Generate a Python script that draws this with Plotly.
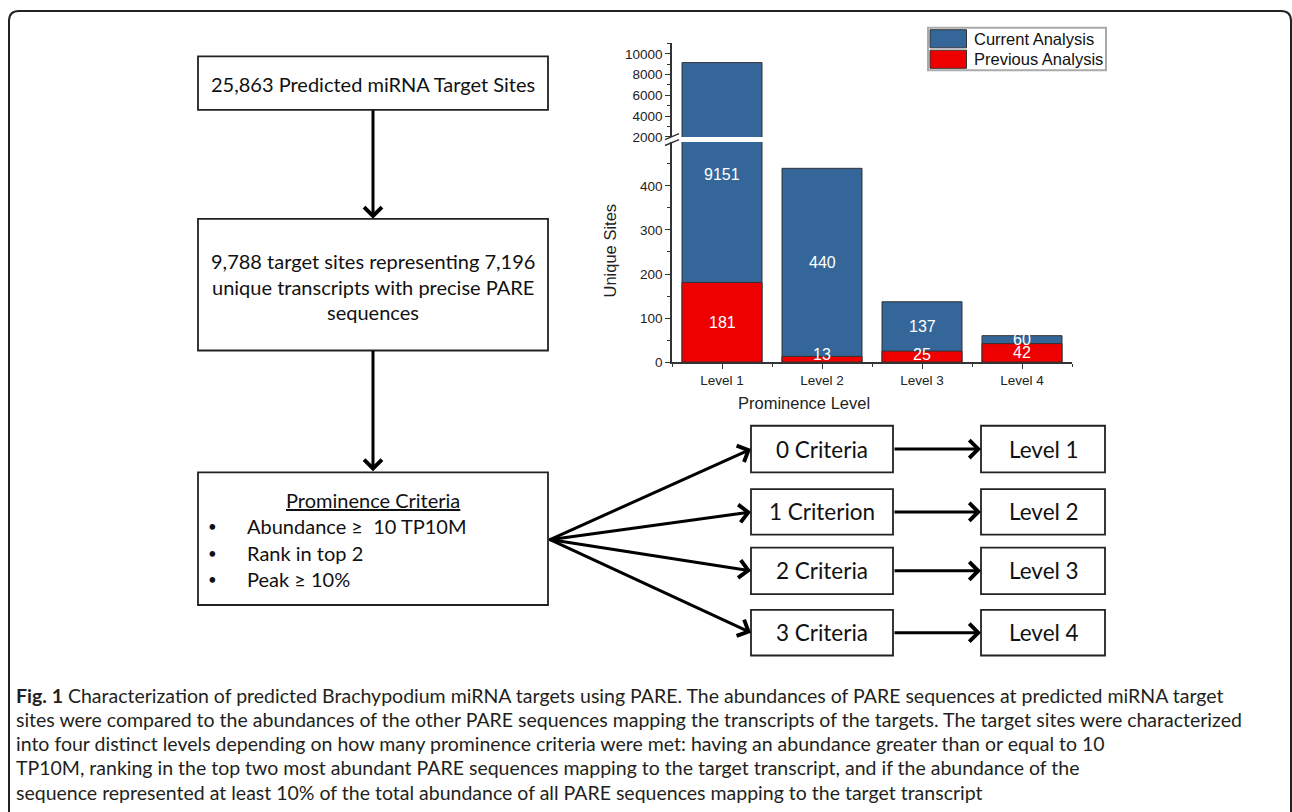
import plotly.graph_objects as go

W, H = 1292, 812

# ---------------- data ----------------
categories = ["Level 1", "Level 2", "Level 3", "Level 4"]
series_names = ["Current Analysis", "Previous Analysis"]
current_analysis = [9151, 440, 137, 60]
previous_analysis = [181, 13, 25, 42]
lower_tickvals = [0, 100, 200, 300, 400]
lower_minor = [50, 150, 250, 350, 450]
upper_tickvals = [2000, 4000, 6000, 8000, 10000]
upper_minor = [3000, 5000, 7000, 9000, 11000]
lower_range = [0, 500]
upper_range = [2000, 11000]

box1_lines = ["25,863 Predicted miRNA Target Sites"]
box2_lines = ["9,788 target sites representing 7,196",
              "unique transcripts with precise PARE",
              "sequences"]
criteria_title = "Prominence Criteria"
criteria_items = ["Abundance ≥  10 TP10M", "Rank in top 2", "Peak ≥ 10%"]
criteria_counts = ["0 Criteria", "1 Criterion", "2 Criteria", "3 Criteria"]

caption_lines = [
    "<b>Fig. 1</b> Characterization of predicted Brachypodium miRNA targets using PARE. The abundances of PARE sequences at predicted miRNA target",
    "sites were compared to the abundances of the other PARE sequences mapping the transcripts of the targets. The target sites were characterized",
    "into four distinct levels depending on how many prominence criteria were met: having an abundance greater than or equal to 10",
    "TP10M, ranking in the top two most abundant PARE sequences mapping to the target transcript, and if the abundance of the",
    "sequence represented at least 10% of the total abundance of all PARE sequences mapping to the target transcript",
]

# ---------------- styles ----------------
BLUE = "#346699"
RED = "#EE0000"
AX = "#333333"
BAR_FONT = "Liberation Sans, Arial, sans-serif"
FLOW_FONT = "Lato, Carlito, Calibri, sans-serif"
CAP_FONT = "Lato, Open Sans, sans-serif"


def X(px):
    return px / W


def Y(py):
    return 1 - py / H


xpos = list(range(len(categories)))
series_vals = [current_analysis, previous_analysis]
series_cols = [BLUE, RED]

fig = go.Figure()
# upper panel (broken part of the axis) and lower panel, previous drawn over current
for yax in ("y2", "y"):
    for name, vals, col in zip(series_names, series_vals, series_cols):
        fig.add_trace(go.Bar(x=xpos, y=vals, name=name, xaxis="x", yaxis=yax, width=0.8,
                             marker=dict(color=col, line=dict(color=AX, width=1)),
                             showlegend=False,
                             hovertemplate="%{y}<extra>" + name + "</extra>"))

annotations = []
# bar value labels
for i in xpos:
    c, p = current_analysis[i], previous_analysis[i]
    yc = min((c + p) / 2, 0.85 * lower_range[1])
    yp = max(p / 2, 17)
    annotations.append(dict(x=i, y=yc, xref="x", yref="y", text=str(c), showarrow=False,
                            font=dict(family=BAR_FONT, size=16, color="white")))
    annotations.append(dict(x=i, y=yp, xref="x", yref="y", text=str(p), showarrow=False,
                            font=dict(family=BAR_FONT, size=16, color="white")))

# axis titles
annotations.append(dict(x=X(610), y=Y(203.5), xref="paper", yref="paper", text="Unique Sites",
                        textangle=-90, showarrow=False,
                        font=dict(family=BAR_FONT, size=16.5, color="#222")))
annotations.append(dict(x=X(872), y=Y(407), xref="paper", yref="paper", text="Prominence Level",
                        showarrow=False, font=dict(family=BAR_FONT, size=16.5, color="#222")))

shapes = []
# legend (drawn in Origin style: large swatches)
shapes.append(dict(type="rect", xref="paper", yref="paper", x0=X(928), y0=Y(71), x1=X(1106), y1=Y(28),
                   line=dict(color="#aaaaaa", width=2), fillcolor="white"))
leg_rows = [(30, 48.3), (50.7, 69)]
for (a, b), name, col in zip(leg_rows, series_names, series_cols):
    shapes.append(dict(type="rect", xref="paper", yref="paper", x0=X(930), y0=Y(b), x1=X(966.5), y1=Y(a),
                       line=dict(color=AX, width=1), fillcolor=col))
    annotations.append(dict(x=X(971.5), y=Y((a + b) / 2), xref="paper", yref="paper", text=name,
                            showarrow=False, xanchor="left", yanchor="middle",
                            font=dict(family=BAR_FONT, size=16.5, color="#111")))

# outer rounded frame
r = 10
L, T, R, B = 9, 11, 1291, 840
frame = (f"M {X(L)},{Y(B)} L {X(L)},{Y(T + r)} Q {X(L)},{Y(T)} {X(L + r)},{Y(T)} "
         f"L {X(R - r)},{Y(T)} Q {X(R)},{Y(T)} {X(R)},{Y(T + r)} L {X(R)},{Y(B)}")
shapes.append(dict(type="path", path=frame, xref="paper", yref="paper",
                   line=dict(color="#222", width=2)))

# axis break marks
for dy in (0, 6):
    shapes.append(dict(type="line", xref="paper", yref="paper",
                       x0=X(665), y0=Y(141 + dy), x1=X(679), y1=Y(135 + dy),
                       line=dict(color=AX, width=1.5)))


def box(x0, y0, x1, y1):
    shapes.append(dict(type="rect", xref="paper", yref="paper",
                       x0=X(x0), y0=Y(y1), x1=X(x1), y1=Y(y0),
                       line=dict(color="#222", width=1.8), fillcolor="rgba(0,0,0,0)"))


def text(x, y, s, size=20, anchor="center", **kw):
    annotations.append(dict(x=X(x), y=Y(y), xref="paper", yref="paper", text=s,
                            showarrow=False, xanchor=anchor, yanchor="middle",
                            font=dict(family=FLOW_FONT, size=size, color="#111", **kw)))


def arrow(tx, ty, hx, hy):
    annotations.append(dict(x=X(hx), y=Y(hy), ax=tx - hx, ay=ty - hy, xref="paper", yref="paper",
                            axref="pixel", ayref="pixel", text="", showarrow=True,
                            arrowhead=4, arrowsize=1.15, arrowwidth=3, arrowcolor="#000",
                            standoff=0, startstandoff=0))


# left flow column
box(198, 57, 548, 111)
for s in box1_lines:
    text(373, 85, s)
arrow(373, 111, 373, 221)
box(198, 221, 548, 354)
for k, s in enumerate(box2_lines):
    text(373, 263.5 + 26 * k, s)
arrow(373, 354, 373, 476)
box(198, 477, 548, 611)
text(373, 505, criteria_title, lineposition="under")
for k, s in enumerate(criteria_items):
    yy = 531.5 + 26.7 * k
    text(213, yy, "•", size=15, anchor="center")
    text(245, yy, s, anchor="left")

# fan-out to criteria boxes and levels
rows = [(430, 477), (494, 540), (553, 600), (616, 662)]
for k, (y0, y1) in enumerate(rows):
    yc = (y0 + y1) / 2
    arrow(548, 545, 751, yc)
    box(751, y0, 893, y1)
    text(822, yc, criteria_counts[k], size=22.5)
    arrow(893, yc, 981, yc)
    box(981, y0, 1105, y1)
    text(1043.5, yc, categories[k], size=22.5)

# caption
for k, s in enumerate(caption_lines):
    annotations.append(dict(x=X(14), y=Y(702 + 24.5 * k), xref="paper", yref="paper", text=s,
                            showarrow=False, xanchor="left", yanchor="middle",
                            font=dict(family=CAP_FONT, size=19.5, color="#231f20")))

tickfont = dict(family=BAR_FONT, size=13.5, color="#222")
fig.update_layout(
    width=W, height=H, margin=dict(l=0, r=0, t=0, b=0),
    paper_bgcolor="white", plot_bgcolor="rgba(0,0,0,0)",
    barmode="overlay", bargap=0.2,
    showlegend=False,
    xaxis=dict(domain=[X(672), X(1072)], range=[-0.5, 3.5], anchor="y",
               tickvals=xpos, ticktext=categories, ticks="outside", ticklen=5,
               tickcolor=AX, showline=True, linecolor=AX, linewidth=1.5,
               showgrid=False, zeroline=False, tickfont=tickfont,
               minor=dict(tickvals=[-0.5, 0.5, 1.5, 2.5, 3.5], ticks="outside",
                          ticklen=3, tickcolor=AX)),
    yaxis=dict(domain=[Y(365.7), Y(143.3)], range=lower_range, anchor="x",
               tickvals=lower_tickvals, ticktext=[str(v) for v in lower_tickvals],
               ticks="outside", ticklen=5, tickcolor=AX,
               showline=True, linecolor=AX, linewidth=1.5, showgrid=False, zeroline=False,
               tickfont=tickfont,
               minor=dict(tickvals=lower_minor, ticks="outside", ticklen=3, tickcolor=AX)),
    yaxis2=dict(domain=[Y(138.3), Y(43.8)], range=upper_range, anchor="x",
                tickvals=upper_tickvals, ticktext=[str(v) for v in upper_tickvals],
                ticks="outside", ticklen=5, tickcolor=AX,
                showline=True, linecolor=AX, linewidth=1.5, showgrid=False, zeroline=False,
                tickfont=tickfont,
                minor=dict(tickvals=upper_minor, ticks="outside", ticklen=3, tickcolor=AX)),
    annotations=annotations,
    shapes=shapes,
)

fig.write_html("out.html", config={"displayModeBar": False},
               post_script="document.body.style.margin='0px';")
